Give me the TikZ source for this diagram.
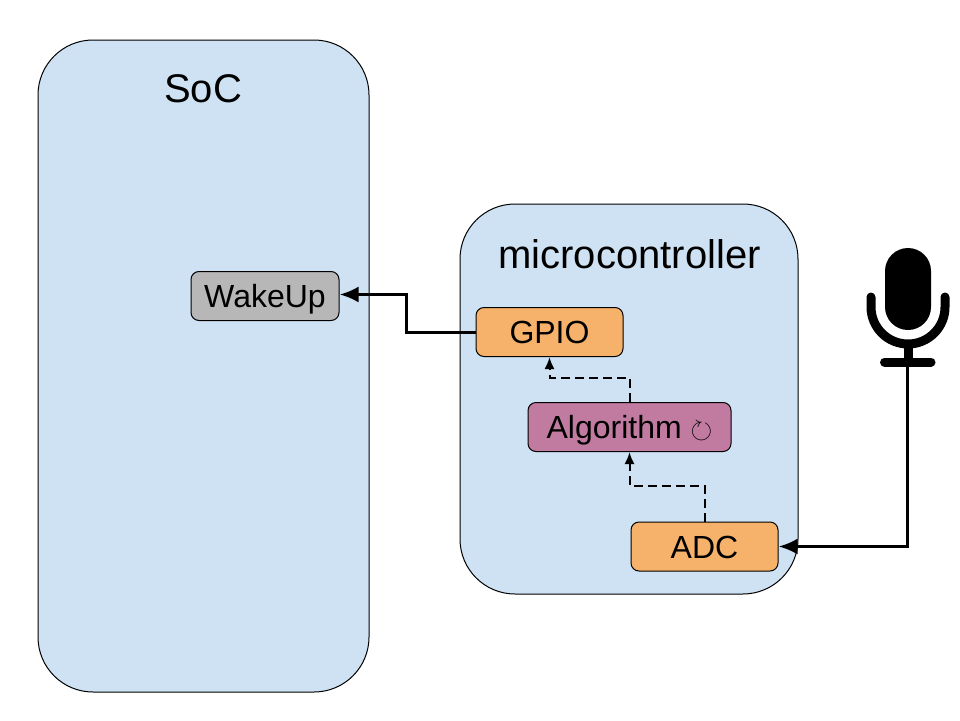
\documentclass[tikz,border=0pt]{standalone}
\usepackage{fontspec}
\usepackage{amssymb}
\setmainfont{Liberation Sans}
\usepackage[HTML]{xcolor}
\usetikzlibrary{positioning, arrows.meta}
\definecolor{chipblue}{HTML}{CFE2F3}
\definecolor{periorange}{HTML}{F6B26B}
\definecolor{algpurple}{HTML}{C27BA0}
\definecolor{wakegrey}{HTML}{B7B7B7}
\tikzset{
  chip/.style={draw=black, line width=1pt, fill=chipblue, rounded corners=55pt, inner sep=0pt},
  block/.style={draw=black, line width=1pt, rounded corners=8pt, inner sep=0pt,
    minimum height=49pt, text height=23pt, text depth=0pt, font=\fontsize{32}{38}\selectfont},
  title/.style={inner sep=0pt, font=\fontsize{40}{48}\selectfont},
  solidlink/.style={line width=3pt, -{Latex[length=19pt, width=16pt]}},
  dashlink/.style={line width=2pt, dash pattern=on 9pt off 5pt, -{Latex[length=12pt, width=10pt]}},
}
\begin{document}
\begin{tikzpicture}[x=1pt, y=-1pt]
\useasboundingbox (0,0) rectangle (960,720);

% The two chips
\node[chip, minimum width=331pt, minimum height=652pt] (soc) at (203.5,366) {};
\node[chip, minimum width=338pt, minimum height=390pt] (mcu) at (629,399) {};
\node[title] (soctitle) at (203,89) {SoC};
\node[title] (mcutitle) at (629.5,254) {microcontroller};

% Blocks
\node[block, fill=wakegrey, minimum width=148pt] (wakeup) at (265,296) {WakeUp};
\node[block, fill=periorange, minimum width=147pt] (gpio) at (549.5,332) {GPIO};
\node[block, fill=algpurple, minimum width=203pt] (algo) at (629.5,427) {Algorithm {\fontsize{28}{30}\selectfont$\circlearrowright$}};
\node[block, fill=periorange, minimum width=147pt] (adc) at (704.5,546.5) {ADC};

% Microphone
\fill[black, rounded corners=23pt] (885,248) rectangle (931,330);
\draw[line width=9pt, line cap=round] (871,297) -- (871,307) arc[start angle=180, end angle=0, radius=37pt, y radius=-37pt] -- (945,297);
\draw[line width=9pt] (908,344) -- (908,362);
\draw[line width=9pt, line cap=round] (884.5,362) -- (931,362);
\coordinate (mic) at (907.5,366);

% Arrows
\draw[solidlink] (gpio.west) -- ++(-69,0) |- ([yshift=1.5pt]wakeup.east);
\draw[solidlink] (mic) |- (adc.east);
\draw[dashlink] (algo.north) -- ++(0,-24) -| (gpio.south);
\draw[dashlink] (adc.north) -- ++(0,-36) -| (algo.south);
\end{tikzpicture}
\end{document}
